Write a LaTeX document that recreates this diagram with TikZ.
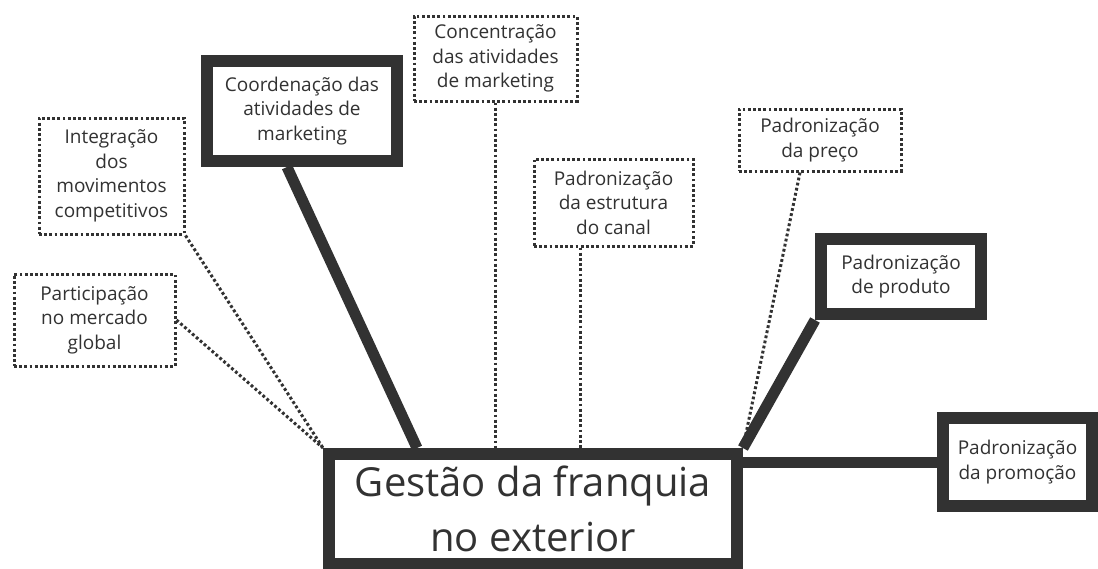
\documentclass[tikz,border=0pt]{standalone}
\usepackage{fontspec}
\setmainfont{Open Sans}
\usetikzlibrary{
    positioning,
    backgrounds
}
\definecolor{ink}{RGB}{50,50,50}

\begin{document}
\begin{tikzpicture}[
  x=1pt, y=-1pt,
  every node/.style={text=ink, align=center, inner sep=0pt},
  weakbox/.style={
    draw=ink, fill=white, line width=3pt,
    dash pattern=on 2.8pt off 2.4pt,
    font=\fontsize{19}{24.5}\selectfont
  },
  strongbox/.style={
    draw=ink, fill=white, line width=12pt,
    font=\fontsize{19}{24.5}\selectfont
  },
  weakline/.style={draw=ink, line width=3pt, dash pattern=on 2.8pt off 2.4pt},
  strongline/.style={draw=ink, line width=11pt}
]

  \useasboundingbox (0,0) rectangle (1098,568);

  % Gestão {{{
  \node[
    strongbox,
    minimum width=408pt,
    minimum height=110pt,
    font=\fontsize{40}{55}\selectfont
  ] (gestao) at (533,509)
  {Gestão da franquia\\no exterior};
  % }}}

  % Participação {{{
  \node[
    weakbox,
    minimum width=161pt,
    minimum height=92pt
  ] (part) at (94.5,320)
  {Participação\\no mercado\\global};
  % }}}

  % Integração {{{
  \node[
    weakbox,
    minimum width=145pt,
    minimum height=116pt
  ] (integ) at (111.5,176)
  {Integração\\dos\\movimentos\\competitivos};
  % }}}

  % Coordenação {{{
  \node[
    strongbox,
    minimum width=190pt,
    minimum height=100pt
  ] (coord) at (302,111)
  {Coordenação das\\atividades de\\marketing};
  % }}}

  % Concentração {{{
  \node[
    weakbox,
    minimum width=163pt,
    minimum height=85pt
  ] (conc) at (495.5,58.5)
  {Concentração\\das atividades\\de marketing};
  % }}}

  % estrutura do canal {{{
  \node[
    weakbox,
    minimum width=159pt,
    minimum height=87pt
  ] (canal) at (613.5,202.5)
  {Padronização\\da estrutura\\do canal};
  % }}}

  % preço {{{
  \node[
    weakbox,
    minimum width=162pt,
    minimum height=62pt
  ] (preco) at (820,140)
  {Padronização\\da preço};
  % }}}

  % produto {{{
  \node[
    strongbox,
    minimum width=160pt,
    minimum height=75pt
  ] (produto) at (901,276.5)
  {Padronização\\de produto};
  % }}}

  % promoção {{{
  \node[
    strongbox,
    minimum width=149pt,
    minimum height=88pt
  ] (promo) at (1017.5,462)
  {Padronização\\da promoção};
  % }}}

  \begin{scope}[on background layer]
    \fill[white] (0,0) rectangle (1098,568);
    \draw[weakline] (part.east) -- (gestao.north west);
    \draw[weakline] (integ.south east) -- (gestao.north west);
    \draw[strongline] ([xshift=-15pt]coord.south) -- ([xshift=94pt]gestao.north west);
    \draw[weakline] (conc.south) -- (conc.south |- gestao.north);
    \draw[weakline] ([xshift=-33pt]canal.south) -- ([xshift=-33pt]canal.south |- gestao.north);
    \draw[weakline] ([xshift=-20pt]preco.south) -- (gestao.north east);
    \draw[strongline] (produto.south west) -- (gestao.north east);
    \draw[strongline] (promo.west) -- (promo.west -| gestao.east);
  \end{scope}

\end{tikzpicture}
\end{document}
